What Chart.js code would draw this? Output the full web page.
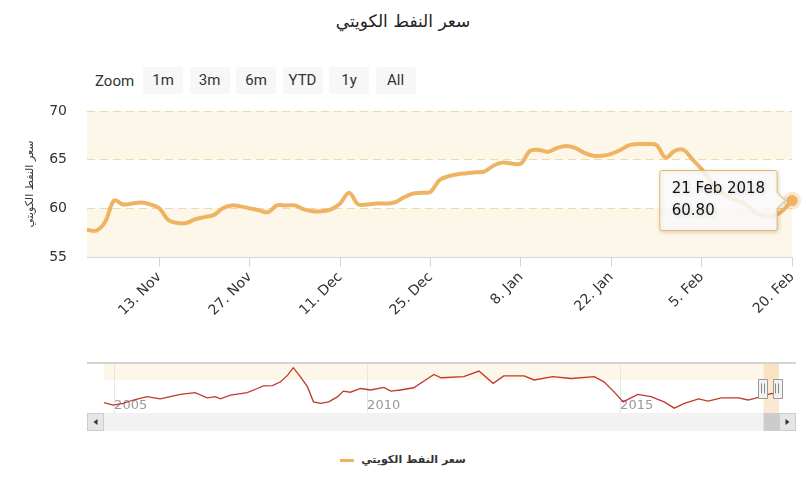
<!DOCTYPE html>
<html lang="ar">
<head>
<meta charset="utf-8">
<title>سعر النفط الكويتي</title>
<script src="https://cdn.jsdelivr.net/npm/chart.js@4.4.1/dist/chart.umd.min.js"></script>
<style>
  body { margin: 0; background: #fff; font-family: "DejaVu Sans", sans-serif; }
  #wrap { position: relative; width: 806px; height: 495px; overflow: hidden; }
  #title { position: absolute; top: 11px; left: 0; width: 806px; text-align: center; font-size: 17px; color: #222; }
  #zoom { position: absolute; top: 67px; left: 95px; display: flex; align-items: center; font-family: Roboto, sans-serif; font-size: 15px; color: #333; }
  #zoom .lbl { width: 48px; }
  #zoom .btn { width: 40px; height: 27px; line-height: 27px; text-align: center; background: #f7f7f7; border-radius: 2px; margin-right: 6.5px; }
  #main { position: absolute; left: 0; top: 95px; }
  #nav { position: absolute; left: 0; top: 355px; }
  #legend { position: absolute; top: 453px; left: 0; width: 806px; text-align: center; font-size: 11px; font-weight: bold; color: #333; }
  #legend .sym { display: inline-block; width: 14px; height: 3px; background: #efb463; vertical-align: middle; margin-right: 7px; }
</style>
</head>
<body>
<div id="wrap">
  <div id="title">سعر النفط الكويتي</div>
  <div id="zoom">
    <span class="lbl">Zoom</span>
    <span class="btn">1m</span><span class="btn">3m</span><span class="btn">6m</span><span class="btn">YTD</span><span class="btn">1y</span><span class="btn">All</span>
  </div>
  <canvas id="main" width="806" height="240"></canvas>
  <canvas id="nav" width="806" height="80"></canvas>
  <div id="legend"><span class="sym"></span><span>سعر النفط الكويتي</span></div>
</div>

<script>
// Kuwait crude price, trading days Nov 2017 - Feb 2018
const seriesName = "سعر النفط الكويتي";

const days = [
  "1 Nov", "2 Nov", "3 Nov", "6 Nov", "7 Nov", "8 Nov", "9 Nov", "10 Nov",
  "13 Nov", "14 Nov", "15 Nov", "16 Nov", "17 Nov",
  "20 Nov", "21 Nov", "22 Nov", "23 Nov", "24 Nov",
  "27 Nov", "28 Nov", "29 Nov", "30 Nov", "1 Dec",
  "4 Dec", "5 Dec", "6 Dec", "7 Dec", "8 Dec",
  "11 Dec", "12 Dec", "13 Dec", "14 Dec", "15 Dec",
  "18 Dec", "19 Dec", "20 Dec", "21 Dec", "22 Dec",
  "25 Dec", "26 Dec", "27 Dec", "28 Dec", "29 Dec",
  "1 Jan", "2 Jan", "3 Jan", "4 Jan", "5 Jan",
  "8 Jan", "9 Jan", "10 Jan", "11 Jan", "12 Jan",
  "15 Jan", "16 Jan", "17 Jan", "18 Jan", "19 Jan",
  "22 Jan", "23 Jan", "24 Jan", "25 Jan", "26 Jan",
  "29 Jan", "30 Jan", "31 Jan", "1 Feb", "2 Feb",
  "5 Feb", "6 Feb", "7 Feb", "8 Feb", "9 Feb",
  "12 Feb", "13 Feb", "14 Feb", "15 Feb", "16 Feb",
  "20 Feb"
];

const prices = [
  57.8, 57.7, 58.6, 60.8, 60.4, 60.5, 60.6, 60.4,
  60.0, 58.8, 58.5, 58.5, 58.9,
  59.1, 59.3, 60.0, 60.3, 60.2,
  60.0, 59.8, 59.6, 60.3, 60.3,
  60.3, 59.9, 59.7, 59.7, 59.9,
  60.5, 61.6, 60.4, 60.4, 60.5,
  60.5, 60.6, 61.1, 61.5, 61.6,
  61.7, 62.9, 63.3, 63.5, 63.6,
  63.7, 63.8, 64.4, 64.7, 64.6,
  64.6, 65.9, 66.0, 65.8, 66.2,
  66.4, 66.2, 65.7, 65.4, 65.4,
  65.6, 66.0, 66.5, 66.6, 66.6,
  66.5, 65.2, 65.9, 66.0, 65.0,
  64.0, 62.8, 61.8, 61.1, 60.8,
  60.3, 59.5, 59.2, 59.2, 59.8,
  60.8
];

const tickDays = ["13 Nov", "27 Nov", "11 Dec", "25 Dec", "8 Jan", "22 Jan", "5 Feb", "20 Feb"];
const yTicks = [55, 60, 65, 70];
const plotBands = [[55, 60], [65, 70]];
const lastPointDate = "21 Feb 2018";

// navigator: long history (year, price)
const navYears = [
  2004.80, 2004.98, 2005.18, 2005.38, 2005.65, 2005.91, 2006.11, 2006.31, 2006.60, 2006.84,
  2007.00, 2007.10, 2007.30, 2007.63, 2007.83, 2007.95, 2008.13, 2008.29, 2008.43, 2008.54,
  2008.68, 2008.82, 2008.94, 2009.08, 2009.24, 2009.42, 2009.53, 2009.67, 2009.87, 2010.07,
  2010.33, 2010.47, 2010.66, 2010.92, 2011.20, 2011.32, 2011.46, 2011.91, 2012.21, 2012.49,
  2012.70, 2013.10, 2013.30, 2013.67, 2014.03, 2014.49, 2014.68, 2014.88, 2015.06, 2015.35,
  2015.61, 2015.87, 2016.07, 2016.27, 2016.55, 2016.74, 2017.00, 2017.34, 2017.53, 2017.79,
  2017.99, 2018.14
];
const navPrices = [
  40, 33, 38, 47, 56, 50, 56, 62, 67, 53,
  56, 50, 60, 67, 78, 85, 86, 96, 114, 134,
  110, 83, 42, 38, 42, 56, 71, 68, 78, 74,
  81, 71, 74, 80, 105, 116, 107, 110, 125, 92,
  112, 112, 101, 110, 105, 110, 96, 69, 42, 62,
  56, 42, 25, 38, 50, 44, 53, 53, 47, 56,
  65, 61
];
const navYearTicks = [2005, 2010, 2015];
const navRange = [2017.835, 2018.14];
const navBand = [101, 144];

const lineColor = "#efb463";

const bandsPlugin = {
  id: "bands",
  beforeDraw(chart) {
    const { ctx, chartArea: a, scales: { y } } = chart;
    ctx.save();
    ctx.fillStyle = "#fdf7ea";
    plotBands.forEach(([from, to]) => {
      const top = y.getPixelForValue(to);
      const bottom = y.getPixelForValue(from);
      ctx.fillRect(a.left, top, a.right - a.left, bottom - top);
    });
    ctx.restore();
  },
  beforeTooltipDraw(chart) {
    const ctx = chart.ctx;
    ctx.save();
    ctx.shadowColor = "rgba(0,0,0,0.18)";
    ctx.shadowBlur = 4;
    ctx.shadowOffsetX = 1;
    ctx.shadowOffsetY = 1;
  },
  afterTooltipDraw(chart) {
    chart.ctx.restore();
  }
};

const mainChart = new Chart(document.getElementById("main"), {
  type: "line",
  data: {
    labels: days,
    datasets: [
      {
        label: seriesName,
        data: prices,
        borderColor: lineColor,
        borderWidth: 4,
        tension: 0.35,
        pointRadius: 0,
        pointHoverRadius: 5.5,
        pointHoverBackgroundColor: lineColor,
        pointHoverBorderColor: "rgba(239,180,99,0.3)",
        pointHoverBorderWidth: 7,
        fill: false,
        clip: false,
      },
    ],
  },
  options: {
    responsive: false,
    animation: false,
    events: [],
    layout: { padding: { top: 16, right: 10, left: 0, bottom: 0 } },
    plugins: {
      legend: { display: false },
      tooltip: {
        animation: false,
        xAlign: "right",
        yAlign: "center",
        backgroundColor: "rgba(255,255,255,0.85)",
        borderColor: lineColor,
        borderWidth: 1,
        titleColor: "#111",
        bodyColor: "#111",
        titleFont: { family: "DejaVu Sans", size: 15, weight: "normal" },
        bodyFont: { family: "DejaVu Sans", size: 15 },
        titleMarginBottom: 4,
        padding: { left: 12, right: 12, top: 10, bottom: 10 },
        caretSize: 8,
        caretPadding: 7,
        cornerRadius: 2,
        displayColors: false,
        callbacks: {
          title: () => lastPointDate,
          label: (c) => c.parsed.y.toFixed(2),
        },
      },
    },
    scales: {
      x: {
        ticks: {
          autoSkip: false,
          maxRotation: 45,
          minRotation: 45,
          padding: 2,
          color: "#333",
          font: { family: "DejaVu Sans", size: 14 },
          callback: function (v) {
            return this.getLabelForValue(v).replace(" ", ". ");
          },
        },
        afterBuildTicks: (s) => {
          s.ticks = s.ticks.filter((t) => tickDays.includes(days[t.value]));
        },
        grid: { drawOnChartArea: false, drawTicks: true, tickLength: 10, color: "#ccd6eb" },
        border: { display: true, color: "#ccd6eb" },
        afterFit: (s) => { s.height = 78; },
      },
      y: {
        min: 55,
        max: 70,
        afterBuildTicks: (s) => { s.ticks = yTicks.map((v) => ({ value: v })); },
        ticks: { padding: 20, color: "#333", font: { family: "DejaVu Sans", size: 14 } },
        grid: {
          drawTicks: false,
          color: (c) => (c.tick && c.tick.value === 55 ? "rgba(0,0,0,0)" : "#f2d7a8"),
        },
        border: { display: false, dash: [8, 5] },
        title: {
          display: true,
          text: seriesName,
          color: "#333",
          font: { family: "DejaVu Sans", size: 11 },
          padding: { top: 24, bottom: 0 },
        },
        afterFit: (s) => {
          s.width = 87;
          s.paddingTop = 8;
          s.paddingBottom = 8;
        },
      },
    },
  },
  plugins: [bandsPlugin],
});

// show the tooltip on the last point
const last = prices.length - 1;
const lastPt = mainChart.getDatasetMeta(0).data[last];
mainChart.setActiveElements([{ datasetIndex: 0, index: last }]);
mainChart.tooltip.setActiveElements([{ datasetIndex: 0, index: last }], { x: lastPt.x, y: lastPt.y });
mainChart.update();

const navPlugin = {
  id: "navigator",
  beforeDraw(chart) {
    const { ctx, chartArea: a, scales: { y } } = chart;
    const top = y.getPixelForValue(navBand[1]);
    const bottom = y.getPixelForValue(navBand[0]);
    ctx.save();
    ctx.fillStyle = "#fdf7ea";
    ctx.fillRect(a.left, top, a.right - a.left, bottom - top);
    ctx.restore();
  },
  beforeDatasetsDraw(chart) {
    const { ctx, chartArea: a, scales: { x } } = chart;
    const x0 = x.getPixelForValue(navRange[0]);
    const x1 = x.getPixelForValue(navRange[1]);
    ctx.save();
    ctx.fillStyle = "rgba(240,190,120,0.35)";
    ctx.fillRect(x0, a.top, x1 - x0, a.bottom - a.top);
    ctx.restore();
  },
  afterDraw(chart) {
    const { ctx, chartArea: a, scales: { x } } = chart;
    const x0 = x.getPixelForValue(navRange[0]);
    const x1 = x.getPixelForValue(navRange[1]);
    const left = 87, right = 796;
    const sTop = a.bottom, sH = 18;
    ctx.save();

    // outline on top
    ctx.strokeStyle = "#d4d4d4";
    ctx.lineWidth = 2;
    ctx.beginPath();
    ctx.moveTo(left, a.top - 1);
    ctx.lineTo(right, a.top - 1);
    ctx.stroke();

    // scrollbar
    ctx.fillStyle = "#f2f2f2";
    ctx.fillRect(left, sTop, right - left, sH);
    ctx.fillStyle = "#cccccc";
    ctx.fillRect(x0, sTop, x1 - x0, sH);
    [left, a.right].forEach((bx, i) => {
      ctx.fillStyle = "#e6e6e6";
      ctx.fillRect(bx, sTop, 17, sH);
      ctx.strokeStyle = "#cccccc";
      ctx.lineWidth = 1;
      ctx.strokeRect(bx + 0.5, sTop + 0.5, 16, sH - 1);
      const cx = bx + 8.5, cy = sTop + sH / 2;
      ctx.fillStyle = "#333";
      ctx.beginPath();
      if (i === 0) {
        ctx.moveTo(cx - 2, cy); ctx.lineTo(cx + 2, cy - 3); ctx.lineTo(cx + 2, cy + 3);
      } else {
        ctx.moveTo(cx + 2, cy); ctx.lineTo(cx - 2, cy - 3); ctx.lineTo(cx - 2, cy + 3);
      }
      ctx.closePath();
      ctx.fill();
    });

    // handles
    const mid = (a.top + a.bottom) / 2;
    [x0 - 1, x1 - 2].forEach((hx) => {
      ctx.fillStyle = "#f2f2f2";
      ctx.strokeStyle = "#999";
      ctx.lineWidth = 1;
      ctx.beginPath();
      ctx.rect(Math.round(hx - 4.5) + 0.5, Math.round(mid - 9.5) + 0.5, 9, 19);
      ctx.fill();
      ctx.stroke();
      ctx.strokeStyle = "#888";
      ctx.beginPath();
      ctx.moveTo(Math.round(hx) - 1.5, mid - 5); ctx.lineTo(Math.round(hx) - 1.5, mid + 5);
      ctx.moveTo(Math.round(hx) + 1.5, mid - 5); ctx.lineTo(Math.round(hx) + 1.5, mid + 5);
      ctx.stroke();
    });
    ctx.restore();
  },
};

new Chart(document.getElementById("nav"), {
  type: "line",
  data: {
    datasets: [
      {
        data: navYears.map((x, i) => ({ x, y: navPrices[i] })),
        borderColor: "#c0392b",
        borderWidth: 1.3,
        pointRadius: 0,
        tension: 0,
      },
    ],
  },
  options: {
    responsive: false,
    animation: false,
    events: [],
    layout: { padding: { left: 104, right: 27, top: 9, bottom: 0 } },
    plugins: { legend: { display: false }, tooltip: { enabled: false } },
    scales: {
      x: {
        type: "linear",
        min: 2004.8,
        max: 2018.14,
        afterBuildTicks: (s) => { s.ticks = navYearTicks.map((v) => ({ value: v })); },
        ticks: {
          align: "start",
          mirror: true,
          padding: 0,
          color: "#999",
          font: { family: "DejaVu Sans", size: 13 },
          callback: (v) => String(v),
        },
        grid: { color: "#e6e6e6", drawTicks: false },
        border: { display: false },
        afterFit: (s) => { s.height = 22; },
      },
      y: { display: false, min: 12, max: 144 },
    },
  },
  plugins: [navPlugin],
});
</script>
</body>
</html>
